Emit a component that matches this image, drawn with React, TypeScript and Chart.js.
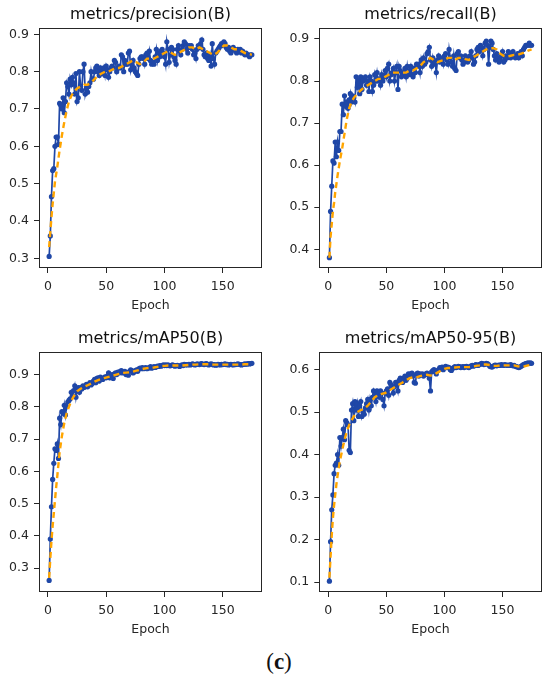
import { useEffect, useRef } from "react";
import { Chart, registerables } from "chart.js";

Chart.register(...registerables);

// epochs 1..175 (category axis of every panel)
const EPOCHS = Array.from({ length: 175 }, (_, i) => i + 1);
const X_TICKS = [0, 50, 100, 150];

const SMOOTH_EPOCHS = [
  1, 2, 3, 4, 5, 6, 7, 8, 10, 12, 14, 16, 18, 20, 22, 25, 28, 31, 34, 37, 40, 43, 46, 49, 52, 55, 58, 61, 64,
  67, 70, 73, 76, 79, 82, 85, 88, 91, 94, 97, 100, 103, 106, 109, 112, 115, 118, 121, 124, 127, 130, 133, 136,
  139, 142, 145, 148, 151, 154, 157, 160, 163, 166, 169, 172, 175,
];

const PRECISION = [
  0.305, 0.36, 0.465, 0.535, 0.54, 0.6, 0.625, 0.625, 0.605, 0.715,
  0.71, 0.7, 0.73, 0.69, 0.72, 0.77, 0.76, 0.74, 0.78, 0.765,
  0.785, 0.77, 0.74, 0.795, 0.72, 0.73, 0.8, 0.76, 0.75, 0.8,
  0.82, 0.74, 0.755, 0.745, 0.76, 0.77, 0.8, 0.78, 0.78, 0.8,
  0.81, 0.815, 0.8, 0.79, 0.81, 0.8, 0.795, 0.81, 0.79, 0.815,
  0.805, 0.785, 0.8, 0.81, 0.815, 0.81, 0.83, 0.825, 0.8, 0.81,
  0.815, 0.81, 0.845, 0.84, 0.8, 0.83, 0.82, 0.82, 0.85, 0.855,
  0.805, 0.82, 0.83, 0.81, 0.8, 0.795, 0.79, 0.82, 0.835, 0.84,
  0.84, 0.835, 0.82, 0.845, 0.85, 0.835, 0.855, 0.83, 0.82, 0.825,
  0.82, 0.84, 0.86, 0.83, 0.85, 0.84, 0.855, 0.86, 0.85, 0.84,
  0.82, 0.88, 0.86, 0.825, 0.845, 0.865, 0.86, 0.84, 0.83, 0.82,
  0.86, 0.87, 0.855, 0.845, 0.86, 0.87, 0.88, 0.875, 0.86, 0.85,
  0.87, 0.865, 0.87, 0.86, 0.845, 0.85, 0.835, 0.86, 0.87, 0.865,
  0.875, 0.885, 0.86, 0.845, 0.84, 0.85, 0.835, 0.83, 0.845, 0.815,
  0.875, 0.835, 0.82, 0.85, 0.855, 0.86, 0.865, 0.87, 0.875, 0.87,
  0.88, 0.875, 0.865, 0.86, 0.865, 0.855, 0.85, 0.86, 0.865, 0.86,
  0.855, 0.85, 0.86, 0.855, 0.86, 0.85, 0.855, 0.85, 0.845, 0.85,
  0.845, 0.845, 0.84, 0.845, 0.845,
];
const PRECISION_SMOOTH = [
  0.33, 0.37, 0.41, 0.445, 0.475, 0.505, 0.525, 0.545, 0.59, 0.63, 0.665, 0.695, 0.72, 0.735, 0.745,
  0.755, 0.76, 0.765, 0.765, 0.77, 0.78, 0.79, 0.795, 0.8, 0.8, 0.805, 0.81, 0.81, 0.815, 0.82, 0.825, 0.83,
  0.825, 0.82, 0.825, 0.835, 0.835, 0.835, 0.84, 0.845, 0.85, 0.855, 0.85, 0.845, 0.85, 0.855, 0.86, 0.865,
  0.865, 0.86, 0.865, 0.86, 0.855, 0.85, 0.845, 0.85, 0.86, 0.87, 0.87, 0.865, 0.86, 0.86, 0.855, 0.85, 0.848,
  0.845,
];

const RECALL = [
  0.38, 0.49, 0.55, 0.61, 0.605, 0.655, 0.62, 0.655, 0.635, 0.68,
  0.68, 0.745, 0.72, 0.765, 0.74, 0.75, 0.735, 0.755, 0.77, 0.75,
  0.765, 0.76, 0.75, 0.81, 0.785, 0.8, 0.77, 0.81, 0.78, 0.8,
  0.805, 0.81, 0.79, 0.8, 0.775, 0.81, 0.8, 0.775, 0.79, 0.815,
  0.8, 0.82, 0.8, 0.805, 0.79, 0.815, 0.8, 0.81, 0.825, 0.81,
  0.83, 0.84, 0.8, 0.815, 0.82, 0.83, 0.8, 0.82, 0.835, 0.78,
  0.835, 0.825, 0.81, 0.815, 0.82, 0.83, 0.81, 0.835, 0.815, 0.825,
  0.835, 0.815, 0.81, 0.83, 0.82, 0.84, 0.835, 0.84, 0.82, 0.85,
  0.835, 0.855, 0.84, 0.845, 0.865, 0.87, 0.88, 0.85, 0.835, 0.855,
  0.84, 0.845, 0.82, 0.85, 0.86, 0.845, 0.85, 0.855, 0.84, 0.86,
  0.865, 0.85, 0.84, 0.875, 0.855, 0.845, 0.835, 0.86, 0.83, 0.825,
  0.865, 0.87, 0.855, 0.86, 0.85, 0.84, 0.845, 0.86, 0.855, 0.845,
  0.85, 0.86, 0.87, 0.855, 0.84, 0.845, 0.86, 0.875, 0.88, 0.87,
  0.885, 0.88, 0.86, 0.875, 0.89, 0.895, 0.885, 0.84, 0.88, 0.895,
  0.89, 0.875, 0.86, 0.85, 0.865, 0.855, 0.845, 0.85, 0.86, 0.87,
  0.845, 0.85, 0.86, 0.855, 0.87, 0.865, 0.855, 0.86, 0.87, 0.86,
  0.855, 0.86, 0.865, 0.855, 0.865, 0.87, 0.86, 0.875, 0.88, 0.885,
  0.885, 0.885, 0.89, 0.885, 0.885,
];
const RECALL_SMOOTH = [
  0.38, 0.43, 0.46, 0.49, 0.51, 0.535, 0.555, 0.575, 0.61, 0.64, 0.675, 0.71, 0.735, 0.75, 0.76,
  0.77, 0.778, 0.785, 0.79, 0.795, 0.8, 0.805, 0.805, 0.81, 0.815, 0.82, 0.82, 0.82, 0.82, 0.82, 0.825, 0.825,
  0.83, 0.835, 0.845, 0.85, 0.855, 0.85, 0.845, 0.848, 0.85, 0.855, 0.855, 0.85, 0.855, 0.855, 0.852, 0.85,
  0.855, 0.86, 0.865, 0.87, 0.875, 0.878, 0.878, 0.875, 0.865, 0.86, 0.858, 0.86, 0.862, 0.862, 0.865, 0.868,
  0.872, 0.875,
];

const MAP50 = [
  0.262, 0.39, 0.49, 0.575, 0.625, 0.67, 0.665, 0.685, 0.64, 0.765,
  0.745, 0.785, 0.78, 0.805, 0.775, 0.8, 0.815, 0.82, 0.825, 0.845,
  0.835, 0.85, 0.865, 0.83, 0.855, 0.86, 0.845, 0.86, 0.855, 0.865,
  0.86, 0.865, 0.87, 0.862, 0.87, 0.875, 0.868, 0.872, 0.88, 0.885,
  0.875, 0.888, 0.89, 0.88, 0.892, 0.888, 0.885, 0.89, 0.893, 0.89,
  0.895, 0.905, 0.89, 0.898, 0.9, 0.888, 0.902, 0.905, 0.9, 0.908,
  0.905, 0.91, 0.912, 0.905, 0.908, 0.91, 0.9, 0.905, 0.898, 0.91,
  0.915, 0.912, 0.905, 0.908, 0.912, 0.915, 0.91, 0.918, 0.92, 0.918,
  0.922, 0.918, 0.92, 0.922, 0.918, 0.92, 0.922, 0.925, 0.92, 0.922,
  0.925, 0.922, 0.924, 0.926, 0.925, 0.928, 0.926, 0.928, 0.93, 0.928,
  0.93, 0.928, 0.93, 0.928, 0.927, 0.929, 0.93, 0.928, 0.926, 0.928,
  0.929, 0.927, 0.925, 0.928, 0.93, 0.928, 0.932, 0.93, 0.931, 0.93,
  0.932, 0.93, 0.931, 0.933, 0.932, 0.93, 0.931, 0.933, 0.932, 0.931,
  0.933, 0.934, 0.932, 0.931, 0.933, 0.934, 0.932, 0.93, 0.932, 0.933,
  0.932, 0.93, 0.931, 0.929, 0.93, 0.932, 0.931, 0.93, 0.932, 0.931,
  0.932, 0.933, 0.931, 0.932, 0.93, 0.931, 0.932, 0.931, 0.93, 0.932,
  0.931, 0.932, 0.933, 0.932, 0.931, 0.93, 0.931, 0.932, 0.933, 0.932,
  0.933, 0.934, 0.933, 0.934, 0.935,
];
const MAP50_SMOOTH = [
  0.27, 0.33, 0.385, 0.43, 0.47, 0.51, 0.55, 0.585, 0.66, 0.71, 0.75, 0.78, 0.8, 0.818, 0.832,
  0.848, 0.856, 0.862, 0.867, 0.872, 0.878, 0.883, 0.887, 0.89, 0.893, 0.896, 0.899, 0.902, 0.905, 0.906,
  0.907, 0.909, 0.912, 0.915, 0.918, 0.92, 0.921, 0.922, 0.924, 0.926, 0.927, 0.928, 0.928, 0.928, 0.928,
  0.928, 0.929, 0.93, 0.931, 0.931, 0.932, 0.932, 0.932, 0.932, 0.931, 0.931, 0.931, 0.931, 0.931, 0.931,
  0.931, 0.931, 0.931, 0.932, 0.932, 0.933,
];

const MAP50_95 = [
  0.102, 0.195, 0.27, 0.305, 0.355, 0.375, 0.38, 0.4, 0.375, 0.44,
  0.42, 0.44, 0.46, 0.435, 0.48, 0.475, 0.47, 0.41, 0.405, 0.505,
  0.52, 0.48, 0.525, 0.505, 0.52, 0.49, 0.515, 0.525, 0.49, 0.5,
  0.495, 0.51, 0.52, 0.53, 0.505, 0.53, 0.515, 0.535, 0.55, 0.54,
  0.525, 0.55, 0.545, 0.535, 0.55, 0.545, 0.53, 0.515, 0.545, 0.55,
  0.555, 0.54, 0.57, 0.565, 0.56, 0.545, 0.56, 0.57, 0.565, 0.55,
  0.575, 0.58, 0.575, 0.57, 0.58, 0.585, 0.575, 0.58, 0.59, 0.585,
  0.59, 0.592, 0.585, 0.57, 0.568, 0.59, 0.592, 0.585, 0.59, 0.588,
  0.59, 0.585, 0.588, 0.59, 0.592, 0.588, 0.58, 0.55, 0.595, 0.598,
  0.6, 0.595, 0.59, 0.598, 0.6, 0.605, 0.602, 0.606, 0.6, 0.605,
  0.608, 0.605, 0.606, 0.605, 0.6, 0.598, 0.603, 0.605, 0.607, 0.605,
  0.606, 0.608, 0.607, 0.605, 0.606, 0.607, 0.605, 0.607, 0.608, 0.606,
  0.605, 0.607, 0.609, 0.61, 0.608, 0.61, 0.612, 0.611, 0.61, 0.612,
  0.613, 0.615, 0.614, 0.612, 0.613, 0.615, 0.614, 0.612, 0.608, 0.607,
  0.606, 0.608, 0.61, 0.611, 0.609, 0.61, 0.611, 0.61, 0.612, 0.611,
  0.61, 0.612, 0.611, 0.61, 0.611, 0.61, 0.612, 0.61, 0.609, 0.61,
  0.608, 0.607, 0.606, 0.605, 0.606, 0.608, 0.61, 0.612, 0.613, 0.614,
  0.615, 0.616, 0.615, 0.616, 0.615,
];
const MAP50_95_SMOOTH = [
  0.11, 0.16, 0.21, 0.25, 0.28, 0.305, 0.33, 0.35, 0.385, 0.41, 0.435, 0.455, 0.47, 0.48, 0.49,
  0.5, 0.505, 0.508, 0.515, 0.525, 0.535, 0.54, 0.543, 0.545, 0.55, 0.555, 0.56, 0.565, 0.57, 0.575, 0.58,
  0.582, 0.582, 0.585, 0.587, 0.588, 0.586, 0.588, 0.593, 0.598, 0.602, 0.604, 0.604, 0.605, 0.606, 0.606,
  0.606, 0.606, 0.607, 0.609, 0.61, 0.612, 0.612, 0.611, 0.609, 0.609, 0.61, 0.61, 0.61, 0.61, 0.61, 0.608,
  0.607, 0.608, 0.61, 0.612,
];

const BLUE = "#1f47a7";
const ORANGE = "#ffa500";
const FRAME = "#262626";
const TEXT = "#262626";
const FONT = "'DejaVu Sans', sans-serif";

const framePlugin = {
  id: "frame",
  afterDraw(chart: any) {
    const { ctx, chartArea } = chart;
    const l = Math.round(chartArea.left) + 0.5;
    const t = Math.round(chartArea.top) + 0.5;
    const r = Math.round(chartArea.right) - 0.5;
    const b = Math.round(chartArea.bottom) - 0.5;
    ctx.save();
    ctx.strokeStyle = FRAME;
    ctx.lineWidth = 1;
    ctx.strokeRect(l, t, r - l, b - t);
    ctx.restore();
  },
};

const toPoints = (xs: number[], ys: number[]) => ys.map((y, i) => ({ x: xs[i], y }));

interface PanelProps {
  title: string;
  values: number[];
  smooth: number[];
  yMin: number;
  yMax: number;
  yTicks: number[];
  left: number;
  top: number;
  axisWidth: number;
  padRight: number;
}

function Panel({ title, values, smooth, yMin, yMax, yTicks, left, top, axisWidth, padRight }: PanelProps) {
  const canvasRef = useRef<HTMLCanvasElement>(null);

  useEffect(() => {
    if (!canvasRef.current) return;
    const tickFont = { family: FONT, size: 12.5 };
    const chart = new Chart(canvasRef.current, {
      type: "line",
      data: {
        datasets: [
          {
            data: toPoints(SMOOTH_EPOCHS, smooth),
            borderColor: ORANGE,
            borderWidth: 2.4,
            borderDash: [6, 4],
            pointRadius: 0,
            tension: 0,
          },
          {
            data: toPoints(EPOCHS, values),
            borderColor: BLUE,
            backgroundColor: BLUE,
            borderWidth: 1.7,
            pointRadius: 2.6,
            pointBorderWidth: 0,
            pointBackgroundColor: BLUE,
            tension: 0,
          },
        ],
      },
      options: {
        responsive: false,
        animation: false,
        layout: { padding: { left: 0, right: padRight, top: 0, bottom: 0 } },
        plugins: {
          legend: { display: false },
          tooltip: { enabled: false },
          title: {
            display: true,
            fullSize: false,
            text: title,
            color: "#111",
            font: { family: FONT, size: 16, weight: "normal" },
            padding: { top: 5.4, bottom: 3.4 },
          },
        },
        scales: {
          x: {
            type: "linear",
            min: -7.7,
            max: 183.7,
            afterBuildTicks: (s: any) => {
              s.ticks = X_TICKS.map((v) => ({ value: v }));
            },
            afterFit: (s: any) => {
              s.height = 52;
            },
            border: { display: false },
            grid: { drawOnChartArea: false, tickLength: 5, color: FRAME },
            ticks: { color: TEXT, font: tickFont, padding: 6, maxRotation: 0 },
            title: {
              display: true,
              text: "Epoch",
              color: TEXT,
              font: tickFont,
              padding: { top: 0, bottom: 6.8 },
            },
          },
          y: {
            type: "linear",
            min: yMin,
            max: yMax,
            afterBuildTicks: (s: any) => {
              s.ticks = yTicks.map((v) => ({ value: v }));
            },
            afterFit: (s: any) => {
              s.width = axisWidth;
            },
            border: { display: false },
            grid: { drawOnChartArea: false, tickLength: 5, color: FRAME },
            ticks: {
              color: TEXT,
              font: tickFont,
              padding: 5,
              callback: (v: any) => Number(v).toFixed(1),
            },
          },
        },
      },
      plugins: [framePlugin],
    } as any);
    return () => chart.destroy();
  }, [title, values, smooth, yMin, yMax, yTicks, axisWidth, padRight]);

  return (
    <canvas
      ref={canvasRef}
      width={275}
      height={320}
      style={{ position: "absolute", left, top, width: 275, height: 320 }}
    />
  );
}

export default function App() {
  return (
    <div style={{ position: "absolute", left: 0, top: 0, width: 550, height: 687, background: "#fff" }}>
      <Panel
        title="metrics/precision(B)"
        values={PRECISION}
        smooth={PRECISION_SMOOTH}
        yMin={0.274}
        yMax={0.917}
        yTicks={[0.3, 0.4, 0.5, 0.6, 0.7, 0.8, 0.9]}
        left={0}
        top={0}
        axisWidth={39}
        padRight={13}
      />
      <Panel
        title="metrics/recall(B)"
        values={RECALL}
        smooth={RECALL_SMOOTH}
        yMin={0.3555}
        yMax={0.926}
        yTicks={[0.4, 0.5, 0.6, 0.7, 0.8, 0.9]}
        left={275}
        top={0}
        axisWidth={44.3}
        padRight={8.3}
      />
      <Panel
        title="metrics/mAP50(B)"
        values={MAP50}
        smooth={MAP50_SMOOTH}
        yMin={0.226}
        yMax={0.97}
        yTicks={[0.3, 0.4, 0.5, 0.6, 0.7, 0.8, 0.9]}
        left={0}
        top={324}
        axisWidth={39}
        padRight={13}
      />
      <Panel
        title="metrics/mAP50-95(B)"
        values={MAP50_95}
        smooth={MAP50_95_SMOOTH}
        yMin={0.0765}
        yMax={0.6416}
        yTicks={[0.1, 0.2, 0.3, 0.4, 0.5, 0.6]}
        left={275}
        top={324}
        axisWidth={44.3}
        padRight={8.3}
      />
      <div
        style={{
          position: "absolute",
          left: 4,
          top: 649,
          width: 550,
          textAlign: "center",
          fontFamily: "'Liberation Serif', 'DejaVu Serif', serif",
          fontSize: 23,
          lineHeight: "26px",
          color: "#111",
        }}
      >
        (<b>c</b>)
      </div>
    </div>
  );
}
